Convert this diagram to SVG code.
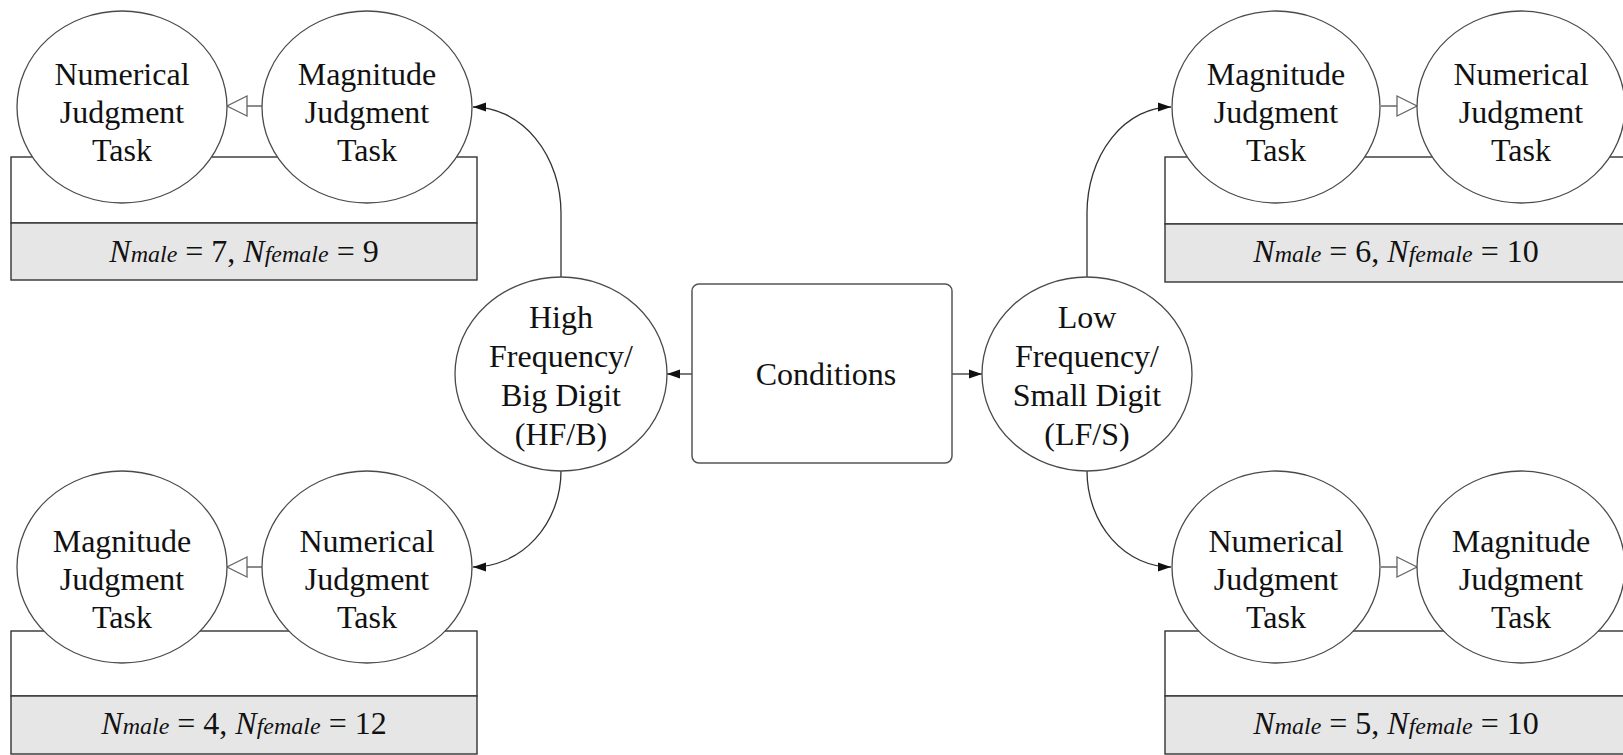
<svg xmlns="http://www.w3.org/2000/svg" width="1623" height="755" viewBox="0 0 1623 755">
<defs>
<style>
.bg{fill:#ffffff}
.ell{fill:#ffffff;stroke:#4a4a4a;stroke-width:1.3}
.t{font-family:"Liberation Serif","Times New Roman",serif;font-size:32px;fill:#111111;text-anchor:middle}
.boxtop{fill:#ffffff;stroke:#333333;stroke-width:1.4}
.boxbot{fill:#e6e6e6;stroke:#333333;stroke-width:1.4}
.cond{fill:#ffffff;stroke:#555555;stroke-width:1.5}
.con{fill:none;stroke:#333333;stroke-width:1.3}
.seq{fill:none;stroke:#666666;stroke-width:1.3}
.i{font-style:italic}
.s{font-style:italic;font-size:24px}
</style>
<marker id="arr" markerUnits="userSpaceOnUse" markerWidth="14" markerHeight="10" refX="13" refY="5" orient="auto">
<path d="M0,0.5 L13,5 L0,9.5 z" fill="#111111"/>
</marker>
<marker id="tri" markerUnits="userSpaceOnUse" markerWidth="24" markerHeight="24" refX="21" refY="12" orient="auto">
<path d="M1,2 L21,12 L1,22 z" fill="#ffffff" stroke="#666666" stroke-width="1.3"/>
</marker>
</defs>
<rect class="bg" x="0" y="0" width="1623" height="755"/>

<g id="panel-tl">
<rect class="boxtop" x="11" y="157" width="466" height="66"/>
<rect class="boxbot" x="11" y="223" width="466" height="57"/>
<text class="t" x="244" y="262"><tspan class="i">N</tspan><tspan class="s">male</tspan> = 7, <tspan class="i">N</tspan><tspan class="s">female</tspan> = 9</text>
</g>
<g id="panel-bl">
<rect class="boxtop" x="11" y="631" width="466" height="65"/>
<rect class="boxbot" x="11" y="696" width="466" height="58"/>
<text class="t" x="244" y="734"><tspan class="i">N</tspan><tspan class="s">male</tspan> = 4, <tspan class="i">N</tspan><tspan class="s">female</tspan> = 12</text>
</g>
<g id="panel-tr">
<rect class="boxtop" x="1165" y="157" width="466" height="67"/>
<rect class="boxbot" x="1165" y="224" width="466" height="58"/>
<text class="t" x="1396" y="262"><tspan class="i">N</tspan><tspan class="s">male</tspan> = 6, <tspan class="i">N</tspan><tspan class="s">female</tspan> = 10</text>
</g>
<g id="panel-br">
<rect class="boxtop" x="1165" y="631" width="466" height="65"/>
<rect class="boxbot" x="1165" y="696" width="466" height="58"/>
<text class="t" x="1396" y="734"><tspan class="i">N</tspan><tspan class="s">male</tspan> = 5, <tspan class="i">N</tspan><tspan class="s">female</tspan> = 10</text>
</g>

<g id="connectors">
<line class="con" x1="692" y1="374" x2="667" y2="374" marker-end="url(#arr)"/>
<line class="con" x1="952" y1="374" x2="982" y2="374" marker-end="url(#arr)"/>
<path class="con" d="M561,277 L561,213 A88,106 0 0 0 473,107" marker-end="url(#arr)"/>
<path class="con" d="M561,471 A88,96 0 0 1 473,567" marker-end="url(#arr)"/>
<path class="con" d="M1087,277 L1087,213 A84,106 0 0 1 1171,107" marker-end="url(#arr)"/>
<path class="con" d="M1087,471 A84,96 0 0 0 1171,567" marker-end="url(#arr)"/>
<line class="seq" x1="262" y1="106" x2="227" y2="106" marker-end="url(#tri)"/>
<line class="seq" x1="262" y1="567" x2="227" y2="567" marker-end="url(#tri)"/>
<line class="seq" x1="1381" y1="106" x2="1417" y2="106" marker-end="url(#tri)"/>
<line class="seq" x1="1381" y1="567" x2="1417" y2="567" marker-end="url(#tri)"/>
</g>

<g id="conditions">
<rect class="cond" x="692" y="284" width="260" height="179" rx="7"/>
<text class="t" x="826" y="385">Conditions</text>
</g>
<g id="hf">
<ellipse class="ell" cx="561" cy="374" rx="106" ry="97"/>
<text class="t" x="561" y="328">High</text>
<text class="t" x="561" y="367">Frequency/</text>
<text class="t" x="561" y="406">Big Digit</text>
<text class="t" x="561" y="445">(HF/B)</text>
</g>
<g id="lf">
<ellipse class="ell" cx="1087" cy="374" rx="105" ry="97"/>
<text class="t" x="1087" y="328">Low</text>
<text class="t" x="1087" y="367">Frequency/</text>
<text class="t" x="1087" y="406">Small Digit</text>
<text class="t" x="1087" y="445">(LF/S)</text>
</g>

<g id="tl-numerical">
<ellipse class="ell" cx="122" cy="107" rx="105" ry="96"/>
<text class="t" x="122" y="85">Numerical</text>
<text class="t" x="122" y="123">Judgment</text>
<text class="t" x="122" y="161">Task</text>
</g>
<g id="tl-magnitude">
<ellipse class="ell" cx="367" cy="107" rx="105" ry="96"/>
<text class="t" x="367" y="85">Magnitude</text>
<text class="t" x="367" y="123">Judgment</text>
<text class="t" x="367" y="161">Task</text>
</g>
<g id="bl-magnitude">
<ellipse class="ell" cx="122" cy="567" rx="105" ry="96"/>
<text class="t" x="122" y="552">Magnitude</text>
<text class="t" x="122" y="590">Judgment</text>
<text class="t" x="122" y="628">Task</text>
</g>
<g id="bl-numerical">
<ellipse class="ell" cx="367" cy="567" rx="105" ry="96"/>
<text class="t" x="367" y="552">Numerical</text>
<text class="t" x="367" y="590">Judgment</text>
<text class="t" x="367" y="628">Task</text>
</g>
<g id="tr-magnitude">
<ellipse class="ell" cx="1276" cy="107" rx="104" ry="96"/>
<text class="t" x="1276" y="85">Magnitude</text>
<text class="t" x="1276" y="123">Judgment</text>
<text class="t" x="1276" y="161">Task</text>
</g>
<g id="tr-numerical">
<ellipse class="ell" cx="1521" cy="107" rx="104" ry="96"/>
<text class="t" x="1521" y="85">Numerical</text>
<text class="t" x="1521" y="123">Judgment</text>
<text class="t" x="1521" y="161">Task</text>
</g>
<g id="br-numerical">
<ellipse class="ell" cx="1276" cy="567" rx="104" ry="96"/>
<text class="t" x="1276" y="552">Numerical</text>
<text class="t" x="1276" y="590">Judgment</text>
<text class="t" x="1276" y="628">Task</text>
</g>
<g id="br-magnitude">
<ellipse class="ell" cx="1521" cy="567" rx="104" ry="96"/>
<text class="t" x="1521" y="552">Magnitude</text>
<text class="t" x="1521" y="590">Judgment</text>
<text class="t" x="1521" y="628">Task</text>
</g>
</svg>
